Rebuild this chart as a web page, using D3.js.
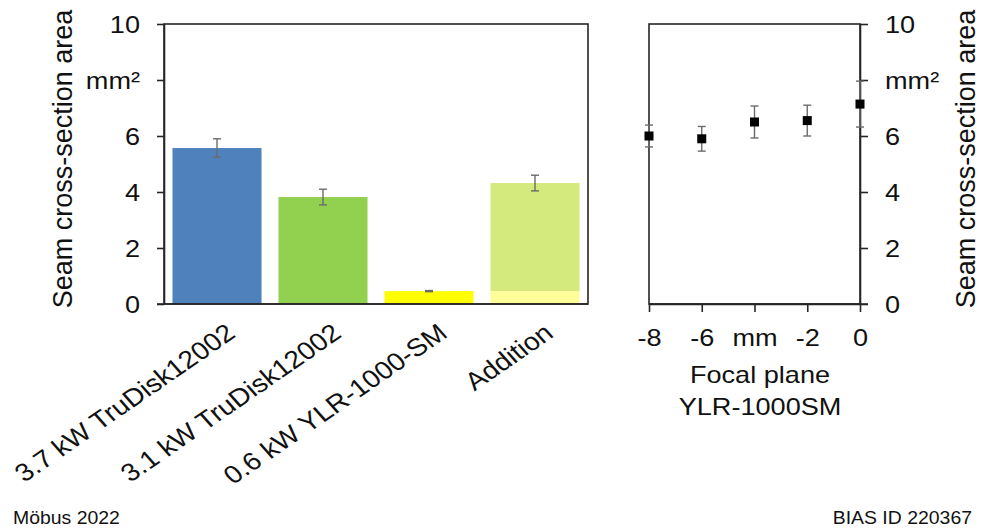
<!DOCTYPE html>
<html>
<head>
<meta charset="utf-8">
<script src="https://cdn.jsdelivr.net/npm/d3@7"></script>
<style>
  html, body { margin: 0; padding: 0; background: #fff; }
  svg { display: block; font-family: "Liberation Sans", Arial, sans-serif; }
</style>
</head>
<body>
<svg id="chart" width="984" height="530"></svg>
<script>
// ---------- data ----------
const categories = ["3.7 kW TruDisk12002", "3.1 kW TruDisk12002", "0.6 kW YLR-1000-SM", "Addition"];
const barValues = [5.57, 3.82, 0.46, 4.32];
const barErrors = [0.33, 0.28, 0.02, 0.28];
const additionBase = [0, 0, 0, 0.46];          // lower (YLR share) segment of the "Addition" bar
const barColors = ["#4f81bd", "#92d050", "#ffff00", "#d4ea7c"];
const baseColors = ["none", "none", "none", "#ffff99"];

const focalPlane = [-8, -6, -4, -2, 0];
const focalArea = [6.0, 5.9, 6.5, 6.55, 7.14];
const focalErrors = [0.39, 0.44, 0.57, 0.55, 0.82];

const yTicks = [0, 2, 4, 6, 8, 10];
const yTickLabels = ["0", "2", "4", "6", "mm²", "10"];
const xTicks = [-8, -6, -4, -2, 0];
const xTickLabels = ["-8", "-6", "mm", "-2", "0"];

const yTitle = "Seam cross-section area";
const xTitle1 = "Focal plane";
const xTitle2 = "YLR-1000SM";
const footLeft = "Möbus 2022";
const footRight = "BIAS ID 220367";

// ---------- setup ----------
const SX = 1.13;  // horizontal stretch of the reference typography
const svg = d3.select("#chart");
const ink = "#262626";
const errCol = "#6b6b6b";

const y = d3.scaleLinear().domain([0, 10]).range([304, 24]);
const x = d3.scaleBand().domain(categories).range([164, 588]).paddingInner(0.16).paddingOuter(0.08);
const xr = d3.scaleLinear().domain([-8, 0]).range([649, 860]);

function stretchText(sel, sx) {
  sel.each(function () {
    const t = d3.select(this);
    const tx = +t.attr("x") || 0, ty = +t.attr("y") || 0;
    t.attr("x", null).attr("y", null).attr("transform", `translate(${tx},${ty}) scale(${sx},1)`);
  });
}

// ---------- left panel ----------
const left = svg.append("g");

left.selectAll("rect.bar").data(categories).join("rect")
  .attr("class", "bar")
  .attr("x", d => x(d))
  .attr("width", x.bandwidth())
  .attr("y", (d, i) => y(barValues[i]))
  .attr("height", (d, i) => y(additionBase[i]) - y(barValues[i]))
  .attr("fill", (d, i) => barColors[i]);

left.selectAll("rect.base").data(categories.filter((d, i) => additionBase[i] > 0)).join("rect")
  .attr("class", "base")
  .attr("x", d => x(d))
  .attr("width", x.bandwidth())
  .attr("y", d => y(additionBase[categories.indexOf(d)]))
  .attr("height", d => y(0) - y(additionBase[categories.indexOf(d)]))
  .attr("fill", d => baseColors[categories.indexOf(d)]);

const eb = left.selectAll("g.err").data(categories).join("g").attr("class", "err")
  .attr("stroke", errCol).attr("stroke-width", 1.4);
eb.append("line")
  .attr("x1", d => x(d) + x.bandwidth() / 2).attr("x2", d => x(d) + x.bandwidth() / 2)
  .attr("y1", (d, i) => y(barValues[i] + barErrors[i])).attr("y2", (d, i) => y(barValues[i] - barErrors[i]));
eb.append("line")
  .attr("x1", d => x(d) + x.bandwidth() / 2 - 4).attr("x2", d => x(d) + x.bandwidth() / 2 + 4)
  .attr("y1", (d, i) => y(barValues[i] + barErrors[i])).attr("y2", (d, i) => y(barValues[i] + barErrors[i]));
eb.append("line")
  .attr("x1", d => x(d) + x.bandwidth() / 2 - 4).attr("x2", d => x(d) + x.bandwidth() / 2 + 4)
  .attr("y1", (d, i) => y(barValues[i] - barErrors[i])).attr("y2", (d, i) => y(barValues[i] - barErrors[i]));

left.append("rect")
  .attr("x", 164).attr("y", y(10)).attr("width", 588 - 164).attr("height", y(0) - y(10))
  .attr("fill", "none").attr("stroke", ink).attr("stroke-width", 1.6);

const ax = left.append("g").attr("transform", "translate(164,0)")
  .call(d3.axisLeft(y).tickValues(yTicks).tickFormat((d, i) => yTickLabels[i]).tickSize(7).tickSizeOuter(0).tickPadding(17));
ax.select(".domain").attr("stroke", ink).attr("stroke-width", 1.6);
ax.selectAll(".tick line").attr("stroke", ink).attr("stroke-width", 1.6);
ax.selectAll("text").attr("font-size", 24).attr("fill", "#111").attr("dy", "0.36em");
stretchText(ax.selectAll("text"), SX);

left.append("line").attr("x1", 157).attr("x2", 588).attr("y1", y(0)).attr("y2", y(0))
  .attr("stroke", ink).attr("stroke-width", 1.6);

const labelX = d => x(d) + x.bandwidth() / 2 + 20;
left.selectAll("text.cat").data(categories).join("text")
  .attr("class", "cat")
  .attr("text-anchor", "end")
  .attr("font-size", 25)
  .attr("fill", "#111")
  .attr("transform", d => `translate(${labelX(d)},336) scale(${SX},1) rotate(-38)`)
  .text(d => d);

left.append("text")
  .attr("transform", "translate(72,159) rotate(-90)")
  .attr("text-anchor", "middle").attr("font-size", 27).attr("fill", "#111")
  .text(yTitle);

// ---------- right panel ----------
const right = svg.append("g");

right.append("rect")
  .attr("x", 649).attr("y", y(10)).attr("width", 860 - 649).attr("height", y(0) - y(10))
  .attr("fill", "none").attr("stroke", ink).attr("stroke-width", 1.6);

const axr = right.append("g").attr("transform", "translate(860,0)")
  .call(d3.axisRight(y).tickValues(yTicks).tickFormat((d, i) => yTickLabels[i]).tickSize(8).tickSizeOuter(0).tickPadding(17));
axr.select(".domain").attr("stroke", ink).attr("stroke-width", 1.6);
axr.selectAll(".tick line").attr("stroke", ink).attr("stroke-width", 1.6);
axr.selectAll("text").attr("font-size", 24).attr("fill", "#111").attr("dy", "0.36em");
stretchText(axr.selectAll("text"), SX);

const axb = right.append("g").attr("transform", `translate(0,${y(0)})`)
  .call(d3.axisBottom(xr).tickValues(xTicks).tickFormat((d, i) => xTickLabels[i]).tickSize(8).tickSizeOuter(0).tickPadding(17));
axb.select(".domain").attr("stroke", ink).attr("stroke-width", 1.6);
axb.selectAll(".tick line").attr("stroke", ink).attr("stroke-width", 1.6);
axb.selectAll("text").attr("font-size", 24).attr("fill", "#111");
stretchText(axb.selectAll("text"), SX);

right.append("line").attr("x1", 649).attr("x2", 868).attr("y1", y(0)).attr("y2", y(0))
  .attr("stroke", ink).attr("stroke-width", 1.6);

const pe = right.selectAll("g.perr").data(focalPlane).join("g").attr("class", "perr")
  .attr("stroke", errCol).attr("stroke-width", 1.4);
pe.append("line")
  .attr("x1", d => xr(d)).attr("x2", d => xr(d))
  .attr("y1", (d, i) => y(focalArea[i] + focalErrors[i])).attr("y2", (d, i) => y(focalArea[i] - focalErrors[i]));
pe.append("line")
  .attr("x1", d => xr(d) - 4).attr("x2", d => xr(d) + 4)
  .attr("y1", (d, i) => y(focalArea[i] + focalErrors[i])).attr("y2", (d, i) => y(focalArea[i] + focalErrors[i]));
pe.append("line")
  .attr("x1", d => xr(d) - 4).attr("x2", d => xr(d) + 4)
  .attr("y1", (d, i) => y(focalArea[i] - focalErrors[i])).attr("y2", (d, i) => y(focalArea[i] - focalErrors[i]));

right.selectAll("rect.pt").data(focalPlane).join("rect")
  .attr("class", "pt")
  .attr("x", d => xr(d) - 4.5).attr("y", (d, i) => y(focalArea[i]) - 4.5)
  .attr("width", 9).attr("height", 9).attr("fill", "#000");

right.append("text")
  .attr("transform", "translate(975,159) rotate(-90)")
  .attr("text-anchor", "middle").attr("font-size", 27).attr("fill", "#111")
  .text(yTitle);

right.append("text").attr("text-anchor", "middle").attr("font-size", 24).attr("fill", "#111")
  .attr("transform", `translate(760,383) scale(${SX},1)`).text(xTitle1);
right.append("text").attr("text-anchor", "middle").attr("font-size", 24).attr("fill", "#111")
  .attr("transform", `translate(760,415) scale(${SX},1)`).text(xTitle2);

// ---------- footer ----------
svg.append("text").attr("font-size", 18).attr("fill", "#111")
  .attr("transform", `translate(13,524) scale(1.08,1)`).text(footLeft);
svg.append("text").attr("font-size", 18).attr("fill", "#111").attr("text-anchor", "end")
  .attr("transform", `translate(972,524) scale(1.08,1)`).text(footRight);
</script>
</body>
</html>
